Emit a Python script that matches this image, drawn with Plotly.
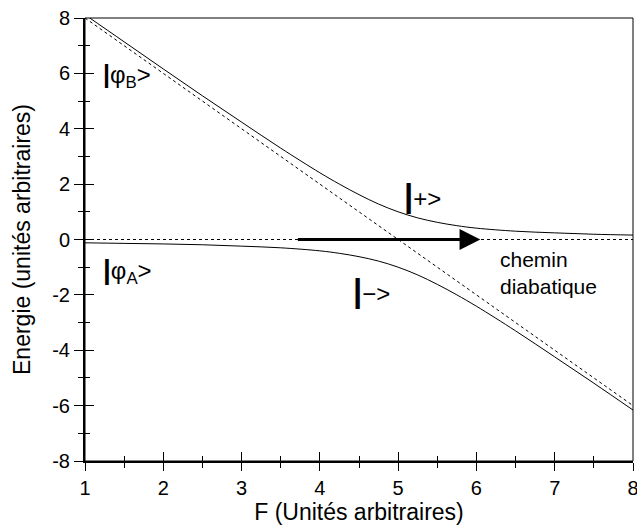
import plotly.graph_objects as go

# --- data ---
F_adiab = [1, 1.5, 2, 2.5, 3, 3.5, 4, 4.25, 4.5, 4.75, 5, 5.25, 5.5, 5.75, 6, 6.5, 7, 7.5, 8]
E_plus = [8.12, 7.14, 6.16, 5.19, 4.24, 3.30, 2.41, 2.0, 1.62, 1.28, 1.0, 0.78, 0.62, 0.5,
          0.41, 0.30, 0.24, 0.19, 0.16]
E_minus = [-0.12, -0.14, -0.16, -0.19, -0.24, -0.30, -0.41, -0.5, -0.62, -0.78, -1.0, -1.28,
           -1.62, -2.0, -2.41, -3.30, -4.24, -5.19, -6.16]
F_diab = [1, 8]
E_A = [0, 0]
E_B = [8, -6]
arrow_F = [3.7, 6.05]
arrow_E = [0, 0]
y_tickvals = [-8, -6, -4, -2, 0, 2, 4, 6, 8]
y_ticktext = ["-8", "-6", "-4", "-2", "0", "2", "4", "6", "8"]

FONT = "Liberation Sans, Arial, sans-serif"

fig = go.Figure()
line_solid = dict(color="black", width=1, shape="spline")
fig.add_trace(go.Scatter(x=F_adiab, y=E_plus, mode="lines", line=line_solid,
                         hoverinfo="skip", showlegend=False))
fig.add_trace(go.Scatter(x=F_adiab, y=E_minus, mode="lines", line=line_solid,
                         hoverinfo="skip", showlegend=False))
line_dot = dict(color="black", width=1, dash="dot")
fig.add_trace(go.Scatter(x=F_diab, y=E_A, mode="lines", line=line_dot, xaxis="x2", yaxis="y2",
                         hoverinfo="skip", showlegend=False))
fig.add_trace(go.Scatter(x=F_diab, y=E_B, mode="lines", line=line_dot, xaxis="x2", yaxis="y2",
                         hoverinfo="skip", showlegend=False))

tickfont = dict(family=FONT, size=20, color="black")
title_font = dict(family=FONT, size=23, color="black")
common_x = dict(range=[1, 8], dtick=1, tick0=1, showgrid=False, zeroline=False, automargin=False)
common_y = dict(range=[-8, 8], tickmode="array", tickvals=y_tickvals, ticktext=y_ticktext,
                showgrid=False, zeroline=False, automargin=False)

fig.update_layout(
    width=637, height=525,
    margin=dict(l=85, r=4, t=18, b=64),
    paper_bgcolor="white", plot_bgcolor="white",
    font=dict(family=FONT, color="black"),
    xaxis=dict(**common_x, ticks="outside", ticklen=8, tickwidth=1.2, tickcolor="black",
               minor=dict(ticks="outside", ticklen=5, dtick=0.5, tickwidth=1.2, tickcolor="black"),
               showline=True, linewidth=2, linecolor="black", tickfont=tickfont,
               ticklabeloverflow="allow",
               title=dict(text="F (Unités arbitraires)", font=title_font, standoff=30)),
    yaxis=dict(**common_y, ticks="outside", ticklen=9, tickwidth=1.2, tickcolor="black",
               minor=dict(ticks="outside", ticklen=5, dtick=1, tickwidth=1.2, tickcolor="black"),
               showline=True, linewidth=2, linecolor="black", tickfont=tickfont,
               title=dict(text="Energie (unités arbitraires)", font=title_font, standoff=15)),
    xaxis2=dict(**common_x, overlaying="x", anchor="y2", side="bottom", ticks="inside", ticklen=9,
                tickwidth=1.2, tickcolor="black",
                minor=dict(ticks="inside", ticklen=5, dtick=0.5, tickwidth=1.2, tickcolor="black"),
                showticklabels=False, showline=False),
    yaxis2=dict(range=[-8, 8], dtick=2, tick0=0, showgrid=False, zeroline=False, automargin=False,
                overlaying="y", anchor="x2", side="left", ticks="inside", ticklen=9,
                tickwidth=1.2, tickcolor="black",
                minor=dict(ticks="inside", ticklen=5, dtick=1, tickwidth=1.2, tickcolor="black"),
                showticklabels=False, showline=False),
)

# thin frame (top/right)
fig.add_shape(type="rect", xref="x domain", yref="y domain", x0=0, x1=1, y0=0, y1=1,
              line=dict(color="black", width=1), layer="above")

# arrow: diabatic path
fig.add_annotation(x=arrow_F[1], y=arrow_E[1], ax=arrow_F[0], ay=arrow_E[0],
                   xref="x", yref="y", axref="x", ayref="y", text="", showarrow=True,
                   arrowhead=2, arrowsize=1.3, arrowwidth=3.2, arrowcolor="black", standoff=0)


def bar(px):
    return '<span style="font-size:%dpx"><b>|</b></span>' % px


lab_font = dict(family=FONT, size=24, color="black")
labels = [
    (1.2, 5.9, bar(25) + "φ<sub>B</sub>>"),
    (1.2, -1.15, bar(28) + "φ<sub>A</sub>>"),
    (5.05, 1.6, bar(33) + "+>"),
    (4.4, -1.85, bar(33) + "−>"),
]
for x, y, t in labels:
    fig.add_annotation(x=x, y=y, xref="x", yref="y", text=t, showarrow=False,
                       xanchor="left", yanchor="middle", font=lab_font)
fig.add_annotation(x=6.27, y=-1.2, xref="x", yref="y", text="chemin<br>diabatique",
                   showarrow=False, xanchor="left", yanchor="middle", align="left",
                   font=dict(family=FONT, size=21, color="black"))

fig.write_html("out.html", post_script="document.body.style.margin='0';",
               config={"displayModeBar": False})
